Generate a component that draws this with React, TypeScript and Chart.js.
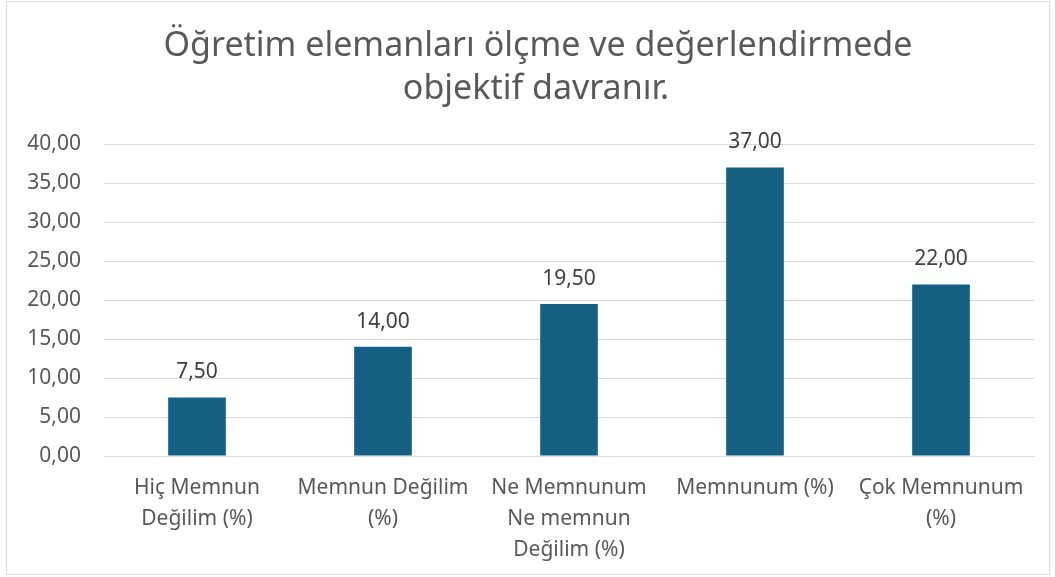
import React, { useEffect, useRef } from "react";
import { Chart, registerables } from "chart.js";

Chart.register(...registerables);

const categories: (string | string[])[] = [
  ["Hiç Memnun", "Değilim (%)"],
  ["Memnun Değilim", "(%)"],
  ["Ne Memnunum", "Ne memnun", "Değilim (%)"],
  "Memnunum (%)",
  ["Çok Memnunum", "(%)"],
];
const values = [7.5, 14.0, 19.5, 37.0, 22.0];
const titleLines = ["Öğretim elemanları ölçme ve değerlendirmede", "objektif davranır."];
const yMin = 0;
const yMax = 40;
const yStep = 5;

const FONT = "'Noto Sans', 'Open Sans', sans-serif";
const fmt = (v: number) => v.toFixed(2).replace(".", ",");

export default function App() {
  const ref = useRef<HTMLCanvasElement>(null);
  useEffect(() => {
    if (!ref.current) return;
    const titlePlugin = {
      id: "customTitle",
      afterDraw(chart: any) {
        const ctx = chart.ctx;
        ctx.save();
        ctx.fillStyle = "#595959";
        ctx.font = `34px ${FONT}`;
        ctx.textAlign = "center";
        ctx.textBaseline = "middle";
        ctx.fillText(titleLines[0], 531, 44);
        ctx.fillText(titleLines[1], 529, 87);
        ctx.restore();
      },
    };
    const labelPlugin = {
      id: "dataLabels",
      afterDatasetsDraw(chart: any) {
        const ctx = chart.ctx;
        const meta = chart.getDatasetMeta(0);
        ctx.save();
        ctx.fillStyle = "#404040";
        ctx.font = `21px ${FONT}`;
        ctx.textAlign = "center";
        ctx.textBaseline = "middle";
        meta.data.forEach((bar: any, i: number) => {
          ctx.fillText(fmt(values[i]), bar.x, bar.y - 25);
        });
        ctx.restore();
      },
    };
    const chart = new Chart(ref.current, {
      type: "bar",
      data: {
        labels: categories,
        datasets: [
          {
            data: values,
            backgroundColor: "#156082",
            barPercentage: 0.31,
            categoryPercentage: 1,
          },
        ],
      },
      options: {
        animation: false,
        responsive: false,
        maintainAspectRatio: false,
        layout: { padding: { top: 142, right: 15, left: 0, bottom: 0 } },
        plugins: {
          legend: { display: false },
          title: { display: false },
          tooltip: { enabled: false },
        },
        scales: {
          x: {
            grid: { display: false, drawTicks: false },
            border: { color: "#d9d9d9", width: 1 },
            ticks: {
              color: "#595959",
              font: { family: FONT, size: 21, lineHeight: 1.48 },
              padding: 16,
              maxRotation: 0,
              autoSkip: false,
            },
            afterFit(scale: any) {
              scale.height = 118;
            },
          },
          y: {
            min: yMin,
            max: yMax,
            grid: { color: "#d9d9d9", drawTicks: false },
            border: { display: false },
            ticks: {
              stepSize: yStep,
              color: "#595959",
              font: { family: FONT, size: 21 },
              padding: 23,
              callback: (v: any) => fmt(Number(v)),
            },
            afterFit(scale: any) {
              scale.width = 97;
            },
          },
        },
      },
      plugins: [titlePlugin, labelPlugin],
    });
    return () => chart.destroy();
  }, []);
  return (
    <div
      style={{
        position: "absolute",
        left: 6,
        top: 1,
        width: 1042,
        height: 572,
        border: "1px solid #d9d9d9",
        background: "#fff",
      }}
    >
      <canvas ref={ref} width={1042} height={572} style={{ display: "block" }} />
    </div>
  );
}
